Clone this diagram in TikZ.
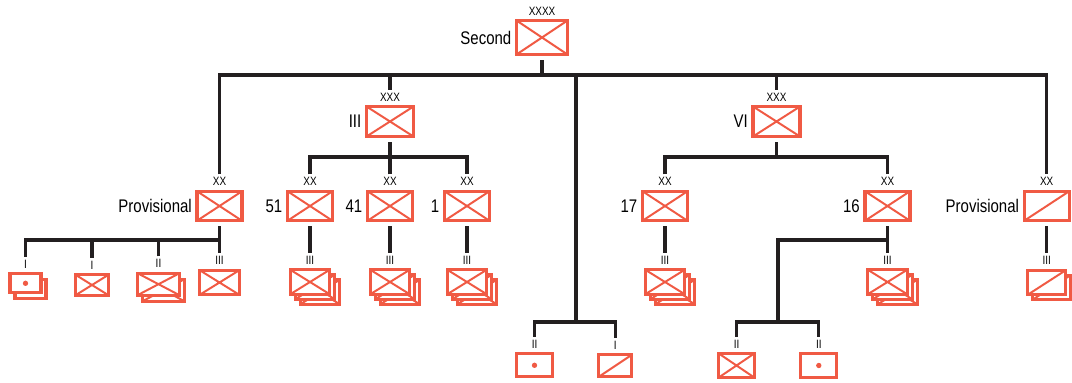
\documentclass[tikz,border=0pt]{standalone}
\usepackage{fontspec}
\setmainfont{Liberation Sans}[FakeStretch=0.82]
\usetikzlibrary{positioning}
\definecolor{unitred}{RGB}{240, 90, 68}
\definecolor{linkgray}{RGB}{35, 31, 32}
\tikzset{
  unit/.style={rectangle, draw=unitred, fill=white, line width=2.2pt,
               inner sep=0pt, outer sep=1.5pt},
  boxsize/.style 2 args={minimum width=#1*0.025cm, minimum height=#2*0.025cm},
  cross/.style={path picture={\draw[unitred, line width=1.4pt]
      (path picture bounding box.north west) -- (path picture bounding box.south east)
      (path picture bounding box.south west) -- (path picture bounding box.north east);}},
  slash/.style={path picture={\draw[unitred, line width=1.4pt]
      (path picture bounding box.south west) -- (path picture bounding box.north east);}},
  dot/.style={path picture={\fill[unitred] (path picture bounding box.center) circle (1.9pt);}},
  corps/.style={unit, cross, boxsize={47}{30}},
  division/.style={unit, boxsize={45}{29.5}},
  regiment/.style={unit, boxsize={39.5}{24.5}},
  ech/.style={inner sep=0pt, outer sep=2.3pt, font=\fontsize{8.6}{9}\selectfont},
  unitname/.style={inner sep=1pt, font=\fontsize{13}{15}\selectfont},
  link/.style={draw=linkgray, line width=2.2pt},
  stem/.style={link, shorten <=2.5pt}
}
\begin{document}
\begin{tikzpicture}[x=0.025cm, y=-0.025cm]
        \useasboundingbox (0,0) rectangle (1072,382);

        % army
        \node (second) [unit, cross, boxsize={51}{34}] at (542,37.5) {};
        \node (seconde) [ech, above=0pt of second] {XXXX};
        \node (secondn) [unitname, left=1pt of second] {Second};

        % corps
        \node (corpsA) [corps] at (390,121.5) {};
        \node (corpsAe) [ech, above=0pt of corpsA] {XXX};
        \node (corpsAn) [unitname, left=1pt of corpsA] {III};
        \node (corpsB) [corps] at (776.5,121.5) {};
        \node (corpsBe) [ech, above=0pt of corpsB] {XXX};
        \node (corpsBn) [unitname, left=1pt of corpsB] {VI};

        % divisions
        \node (provA) [division, cross] at (219.5,206) {};
        \node (d51) [division, cross] at (310,206) {};
        \node (d41) [division, cross] at (390,206) {};
        \node (d1) [division, cross] at (467,206) {};
        \node (d17) [division, cross] at (665,206) {};
        \node (d16) [division, cross] at (887.5,206) {};
        \node (provB) [division, slash] at (1046.7,206) {};
        \foreach \dv/\dn in {provA/Provisional, d51/51, d41/41, d1/1, d17/17, d16/16, provB/Provisional} {
          \node (\dv e) [ech, above=0pt of \dv] {XX};
          \node (\dv n) [unitname, left=1pt of \dv] {\dn};
        }

        % regiments, stacked three deep
        \foreach \reg/\rx in {r51/310, r41/390, r1/467, r17/665, r16/887.5} {
          \node (\reg c) [regiment, cross] at (\rx+10,292) {};
          \node (\reg b) [regiment, cross] at (\rx+5,287) {};
          \node (\reg) [regiment, cross] at (\rx,282) {};
          \node (\reg e) [ech, above=0pt of \reg] {III};
        }
        \node (rPb) [regiment, slash, boxsize={38}{24.5}] at (1051.5,287.5) {};
        \node (rP) [regiment, slash, boxsize={38}{24.5}] at (1046.7,282.5) {};
        \node (rPe) [ech, above=0pt of rP] {III};

        % provisional division units
        \node (pA1b) [unit, boxsize={31}{19}] at (30.5,289.3) {};
        \node (pA1) [unit, dot, boxsize={31}{19}] at (25.5,283.3) {};
        \node (pA1e) [ech, above=0pt of pA1] {I};
        \node (pA2) [unit, cross, boxsize={33}{20.5}] at (92,285) {};
        \node (pA2e) [ech, above=0pt of pA2] {I};
        \node (pA3b) [unit, cross, boxsize={42}{22}] at (163.5,290.2) {};
        \node (pA3) [unit, cross, boxsize={42}{22}] at (158.5,284.2) {};
        \node (pA3e) [ech, above=0pt of pA3] {II};
        \node (pA4) [regiment, cross] at (219.5,282.5) {};
        \node (pA4e) [ech, above=0pt of pA4] {III};

        % army and division 16 units
        \node (cB1) [unit, dot, boxsize={36}{23}] at (534.5,365.3) {};
        \node (cB1e) [ech, above=0pt of cB1] {II};
        \node (cB2) [unit, slash, boxsize={33}{22}] at (615.3,365.8) {};
        \node (cB2e) [ech, above=0pt of cB2] {I};
        \node (eB1) [unit, cross, boxsize={35.5}{24}] at (736.5,365.5) {};
        \node (eB1e) [ech, above=0pt of eB1] {II};
        \node (eB2) [unit, dot, boxsize={36}{24}] at (818.8,365.5) {};
        \node (eB2e) [ech, above=0pt of eB2] {II};

        % junctions
        \coordinate (topbar) at (576,75);
        \coordinate (barA) at (390,157);
        \coordinate (barB) at (776.5,157);
        \coordinate (barP) at (219.5,240);
        \coordinate (midbar) at (576,322);
        \coordinate (bar16) at (887.5,240);
        \coordinate (barE) at (778,322);

        \draw [stem] (second.south) -- (second.south |- topbar);
        \draw [link] (provAe.north) |- (topbar) -| (provBe.north);
        \draw [link] (corpsAe.north) -- (corpsAe.north |- topbar);
        \draw [link] (corpsBe.north) -- (corpsBe.north |- topbar);
        \draw [link] (topbar) -- (midbar);
        \draw [link] (cB1e.north) |- (midbar) -| (cB2e.north);

        \draw [stem] (corpsA.south) -- (barA);
        \draw [link] (d51e.north) |- (barA) -| (d1e.north);
        \draw [link] (d41e.north) -- (d41e.north |- barA);
        \draw [stem] (corpsB.south) -- (barB);
        \draw [link] (d17e.north) |- (barB) -| (d16e.north);

        \draw [stem] (d51.south) -- (r51e.north);
        \draw [stem] (d41.south) -- (r41e.north);
        \draw [stem] (d1.south) -- (r1e.north);
        \draw [stem] (d17.south) -- (r17e.north);
        \draw [stem] (d16.south) -- (r16e.north);
        \draw [stem] (provB.south) -- (rPe.north);

        \draw [stem] (provA.south) -- (pA4e.north);
        \draw [link] (pA1e.north) |- (barP);
        \draw [link] (pA2e.north) -- (pA2e.north |- barP);
        \draw [link] (pA3e.north) -- (pA3e.north |- barP);

        \draw [link] (bar16) -| (barE);
        \draw [link] (eB1e.north) |- (barE) -| (eB2e.north);

    \end{tikzpicture}
\end{document}
